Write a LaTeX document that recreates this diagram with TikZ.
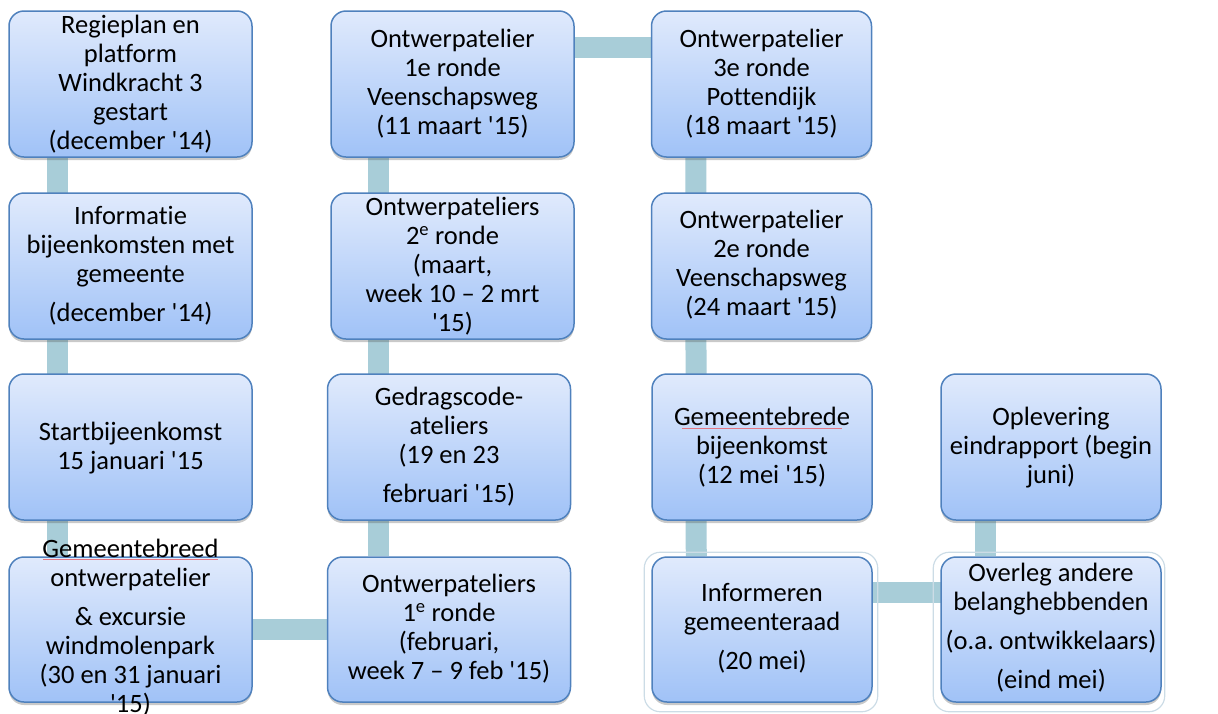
\documentclass[tikz,border=0pt]{standalone}
\usepackage{fontspec}
\newfontfamily\carl{Carlito}[Ligatures=NoCommon]
\usetikzlibrary{shadows,backgrounds}
\frenchspacing
\definecolor{boxline}{RGB}{79,129,189}
\definecolor{boxtop}{RGB}{224,234,252}
\definecolor{boxbot}{RGB}{160,194,247}
\definecolor{conncol}{RGB}{168,205,216}
\definecolor{glowcol}{RGB}{204,220,230}
\definecolor{spellred}{RGB}{228,120,132}
\tikzset{
  box/.style={draw=boxline, line width=1.5pt, rounded corners=15pt,
    top color=boxtop, bottom color=boxbot, inner sep=0pt,
    drop shadow={shadow xshift=0pt, shadow yshift=-3pt, opacity=0.3, fill=black!70}},
  wbox/.style={box, minimum width=243pt},
  nbox/.style={box, minimum width=220pt},
  txt/.style={align=center, inner sep=0pt, font=\carl\fontsize{26.5}{29}\selectfont},
  conn/.style={draw=conncol, line width=21pt},
  glow/.style={draw=glowcol, line width=1.2pt, rounded corners=16pt},
  spell/.style={draw=spellred, line width=1pt}
}
\begin{document}
\begin{tikzpicture}[x=1pt,y=-1pt]
\useasboundingbox (0,0) rectangle (1218,713);
% column 1
\node[wbox, minimum height=146pt] (c1a) at (130.5,84) {};
\node[wbox, minimum height=146pt] (c1b) at (130.5,266) {};
\node[wbox, minimum height=146pt] (c1c) at (130.5,447) {};
\node[wbox, minimum height=145pt] (c1d) at (130.5,629.5) {};
% column 2
\node[wbox, minimum height=146pt] (c2a) at (452.5,84) {};
\node[wbox, minimum height=146pt] (c2b) at (452.5,266) {};
\node[wbox, minimum height=146pt] (c2c) at (449,447) {};
\node[wbox, minimum height=145pt] (c2d) at (449,629.5) {};
% column 3
\node[nbox, minimum height=146pt] (c3a) at (761.5,84) {};
\node[nbox, minimum height=146pt] (c3b) at (761.5,266) {};
\node[nbox, minimum height=146pt] (c3c) at (762,447) {};
\node[nbox, minimum height=145pt] (c3d) at (762,629.5) {};
% column 4
\node[nbox, minimum height=146pt] (c4c) at (1051,447) {};
\node[nbox, minimum height=145pt] (c4d) at (1051,629.5) {};
% glow around last boxes
\draw[glow] ([xshift=-7pt,yshift=4pt]c3d.north west) rectangle ([xshift=5pt,yshift=-9pt]c3d.south east);
\draw[glow] ([xshift=-7pt,yshift=4pt]c4d.north west) rectangle ([xshift=3pt,yshift=-9pt]c4d.south east);
% connectors
\begin{scope}[on background layer]
\draw[conn] ([xshift=49pt]c1a.south west) -- ([xshift=49pt]c1d.north west);
\draw[conn] (c1d.center) -- (c2d.center);
\draw[conn] ([xshift=52pt]c2c.north west |- c2a.south) -- ([xshift=52pt]c2d.north west);
\draw[conn] ([yshift=-37pt]c2a.north) -- ([yshift=-37pt]c3a.north);
\draw[conn] ([xshift=45pt]c3a.south west) -- ([xshift=45pt]c3d.north west);
\draw[conn] ([yshift=-36pt]c3d.north) -- ([yshift=-36pt]c4d.north);
\draw[conn] ([xshift=45pt]c4c.south west) -- ([xshift=45pt]c4d.north west);
\end{scope}
% texts
\node[txt] (t1a) at (130.5,84) {Regieplan en\\platform\\Windkracht 3\\gestart\\(december '14)};
\node[txt] (t1b) at (130.5,266) {Informatie\\bijeenkomsten met\\gemeente\\[10pt](december '14)};
\node[txt] (t1c) at (130.5,448) {Startbijeenkomst\\15 januari '15};
\node[txt] (t1d) at (130.5,628) {Gemeentebreed\\ontwerpatelier\\[10pt]\& excursie\\windmolenpark\\(30 en 31 januari\\'15)};
\node[txt] (t2a) at (452.5,84) {Ontwerpatelier\\1e ronde\\Veenschapsweg\\(11 maart '15)};
\node[txt] (t2b) at (452.5,266) {Ontwerpateliers\\2\textsuperscript{e} ronde\\(maart,\\week 10 – 2 mrt\\'15)};
\node[txt] (t2c) at (449,447) {Gedragscode-\\ateliers\\(19 en 23\\[10pt]februari '15)};
\node[txt] (t2d) at (449,629) {Ontwerpateliers\\1\textsuperscript{e} ronde\\(februari,\\week 7 – 9 feb '15)};
\node[txt] (t3a) at (761.5,84) {Ontwerpatelier\\3e ronde\\Pottendijk\\(18 maart '15)};
\node[txt] (t3b) at (761.5,265) {Ontwerpatelier\\2e ronde\\Veenschapsweg\\(24 maart '15)};
\node[txt] (t3c) at (762,447) {Gemeentebrede\\bijeenkomst\\(12 mei '15)};
\node[txt] (t3d) at (762,628) {Informeren\\gemeenteraad\\[10pt](20 mei)};
\node[txt] (t4c) at (1051,448) {Oplevering\\eindrapport (begin\\juni)};
\node[txt] (t4d) at (1051,628) {Overleg andere\\belanghebbenden\\[10pt](o.a. ontwikkelaars)\\[10pt](eind mei)};
% spell-check marks
\draw[spell] (43,559) -- (218,559);
\draw[spell] (682,428) -- (842,428);
\end{tikzpicture}
\end{document}
